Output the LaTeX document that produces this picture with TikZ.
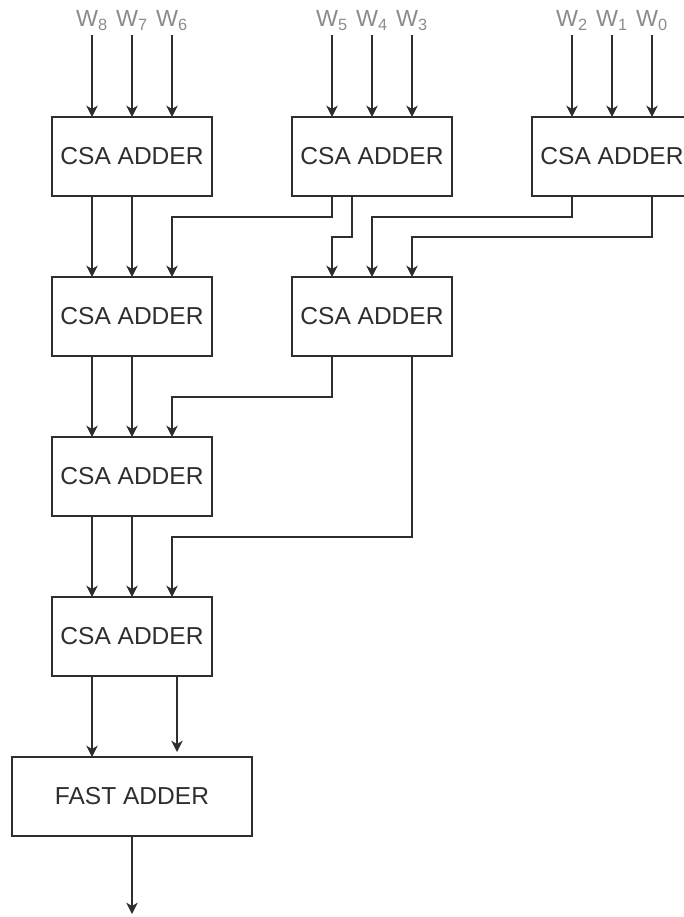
\documentclass[tikz,border=0pt]{standalone}
\usepackage{fontspec}
\setmainfont{Liberation Sans}
\usetikzlibrary{arrows.meta}
\definecolor{linegray}{HTML}{2E2E2E}
\definecolor{labgray}{HTML}{8C8C8C}

\tikzset{
	adder/.style={draw=linegray, line width=1.4pt, minimum width=120pt, minimum height=59.25pt,
		inner sep=0pt, outer sep=0pt, text=linegray, font=\fontsize{18.4pt}{21pt}\selectfont},
	wlab/.style={text=labgray, inner sep=0pt, anchor=base, font=\fontsize{17.5pt}{20pt}\selectfont},
	wire/.style={draw=linegray, line width=1.3pt, -{Stealth[length=8.5pt,width=8.5pt,inset=2.5pt]}}
}

\begin{document}
\begin{tikzpicture}[x=0.75pt, y=-0.75pt]
		\useasboundingbox (0,0) rectangle (683,917);

		% first row
		\node[adder] (a1) at (132,156.5) {CSA ADDER};
		\node[adder] (a2) at (372,156.5) {CSA ADDER};
		\node[adder] (a3) at (612,156.5) {CSA ADDER};
		% second row
		\node[adder] (b1) at (132,316.5) {CSA ADDER};
		\node[adder] (b2) at (372,316.5) {CSA ADDER};
		% chain
		\node[adder] (c1) at (132,476.5) {CSA ADDER};
		\node[adder] (d1) at (132,636.5) {CSA ADDER};
		\node[adder, minimum width=180pt] (fast) at (132,796.5) {FAST ADDER};
		\coordinate (out) at (132,914);

		% inputs
		\foreach \n/\x in {8/92,7/132,6/172,5/332,4/372,3/412,2/572,1/612,0/652}
		{
			\node[wlab] (w\n) at (\x,27) {W\textsubscript{\n}};
			\draw[wire] (w\n.base) ++(0,8) -- (w\n.base |- a1.north);
		}

		% straight wires
		\foreach \s in {-30pt,0pt}
		{
			\draw[wire] ([xshift=\s]a1.south) -- ([xshift=\s]b1.north);
			\draw[wire] ([xshift=\s]b1.south) -- ([xshift=\s]c1.north);
			\draw[wire] ([xshift=\s]c1.south) -- ([xshift=\s]d1.north);
		}

		% routed wires
		\draw[wire] ([xshift=-30pt]a2.south) -- ++(0,21) -| ([xshift=30pt]b1.north);
		\draw[wire] (a2.south) -- ([xshift=-15pt]a2.south) -- ++(0,41) -| ([xshift=-30pt]b2.north);
		\draw[wire] ([xshift=-30pt]a3.south) -- ++(0,21) -| (b2.north);
		\draw[wire] ([xshift=30pt]a3.south) -- ++(0,41) -| ([xshift=30pt]b2.north);
		\draw[wire] ([xshift=-30pt]b2.south) -- ++(0,41) -| ([xshift=30pt]c1.north);
		\draw[wire] ([xshift=30pt]b2.south) -- ++(0,181) -| ([xshift=30pt]d1.north);

		% final stage
		\draw[wire] ([xshift=-30pt]d1.south) -- ([xshift=-30pt]d1.south |- fast.north);
		\draw[wire] ([xshift=33.75pt]d1.south) -- ++(0,76);
		\draw[wire] (fast) -- (out);
	\end{tikzpicture}
\end{document}
